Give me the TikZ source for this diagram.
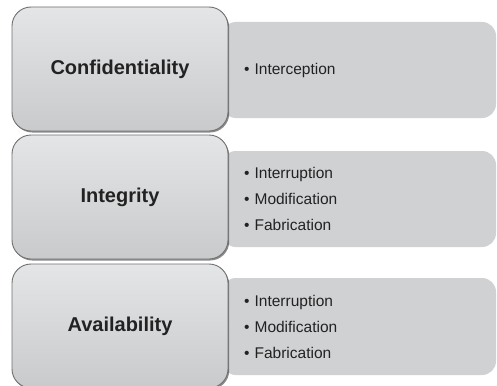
\documentclass[tikz,border=0pt]{standalone}
\usepackage{fontspec}
\setmainfont{Liberation Sans}
\usetikzlibrary{shadows}
\definecolor{txt}{HTML}{222222}
\definecolor{edge}{HTML}{707070}
\definecolor{topc}{HTML}{E4E5E7}
\definecolor{botc}{HTML}{C9CACC}
\definecolor{rfill}{HTML}{D0D1D3}
\tikzset{
  leftbox/.style={rounded corners=19pt, draw=edge, line width=0.9pt,
    top color=topc, bottom color=botc,
    drop shadow={shadow xshift=1.2pt, shadow yshift=-1.5pt, fill=black, opacity=0.45},
    minimum width=216pt, minimum height=124pt, inner sep=0pt,
    font=\fontsize{20}{24}\selectfont\bfseries, text=txt},
  rightbox/.style={rounded corners=14pt, fill=rfill, draw=none,
    minimum width=274pt, text width=230pt, inner xsep=22pt, inner ysep=0pt,
    align=left, font=\fontsize{15.5}{26}\selectfont, text=txt}
}
\begin{document}
\begin{tikzpicture}[x=1pt,y=-1pt]
\useasboundingbox (0,0) rectangle (497,385);
\fill[white] (0,0) rectangle (497,385);
% right boxes
\node[rightbox, minimum height=96pt] (r1) at (359,70) {• Interception};
\node[rightbox, minimum height=96pt] (r2) at (359,199) {• Interruption\\• Modification\\• Fabrication};
\node[rightbox, minimum height=97pt] (r3) at (359,326.5) {• Interruption\\• Modification\\• Fabrication};
% left boxes
\node[leftbox] (c) at (120,69) {Confidentiality};
\node[leftbox] (i) at (120,197) {Integrity};
\node[leftbox] (a) at (120,326) {Availability};
\end{tikzpicture}
\end{document}
